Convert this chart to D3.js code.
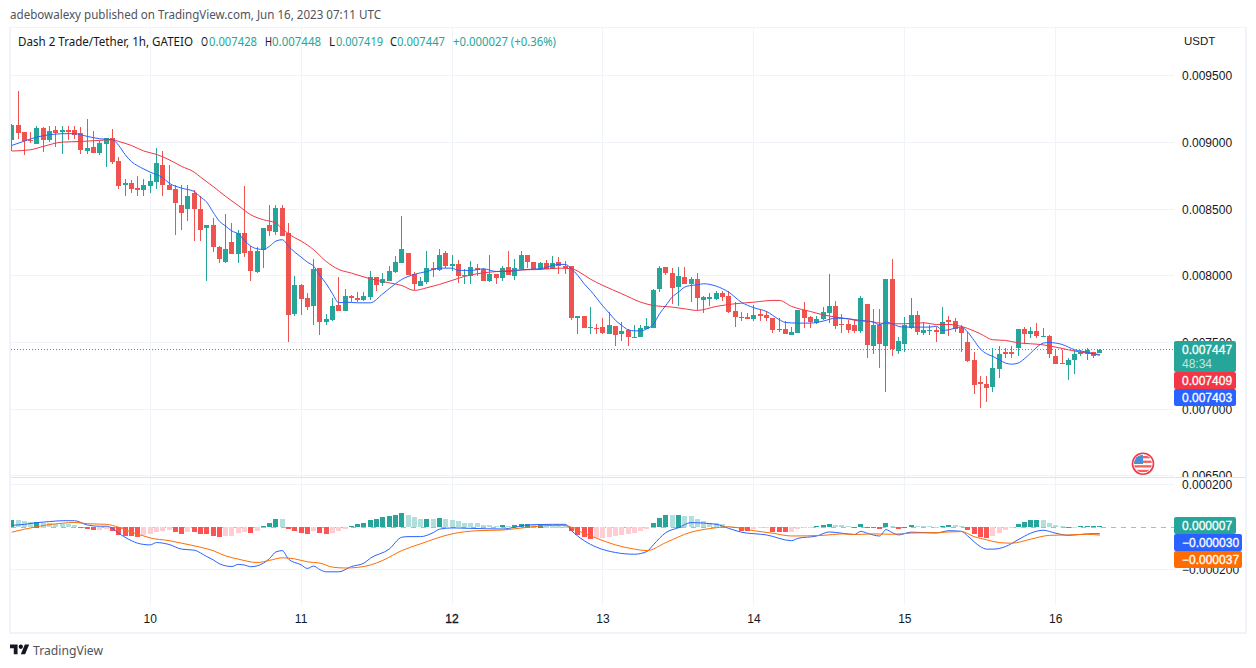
<!DOCTYPE html>
<html>
<head>
<meta charset="utf-8">
<script src="https://d3js.org/d3.v7.min.js"></script>
<style>
html,body{margin:0;padding:0;background:#fff;overflow:hidden}
svg{display:block}
text{font-family:"Liberation Sans",Arial,sans-serif}
.ui{font-family:"Noto Sans","Open Sans",sans-serif}
</style>
</head>
<body>
<svg id="c" width="1256" height="668"></svg>
<script>
// Prices and MACD values are in millionths of a USDT.
const opens=[9015,9128,9075,9015,8985,9105,9015,9090,9075,9090,9090,9067,8932,8962,8917,8985,9030,8857,8677,8692,8655,8640,8670,8700,8827,8677,8647,8527,8497,8617,8497,8355,8377,8212,8100,8250,8160,8317,8182,8025,8190,8377,8325,8505,8317,7710,7927,7830,7770,8055,7650,7665,7777,7732,7845,7830,7815,7837,7987,7942,7957,8025,8092,8167,8010,7920,7950,8055,8040,8167,8070,8085,7998,7995,8055,8047,7957,8010,7980,8062,7995,8047,8152,8100,8047,8092,8047,8100,8070,8070,7680,7695,7605,7608,7612,7560,7620,7560,7590,7535,7537,7597,7605,7897,8062,8017,7912,7987,7935,7972,7815,7822,7822,7867,7845,7732,7687,7687,7672,7710,7702,7680,7590,7597,7552,7567,7740,7687,7642,7672,7717,7770,7635,7635,7627,7582,7785,7470,7627,7470,7972,7432,7485,7605,7702,7567,7582,7590,7560,7665,7657,7605,7500,7365,7200,7192,7162,7305,7425,7432,7455,7597,7560,7582,7540,7545,7402,7347,7335,7365,7410,7410,7432,7428];
const highs=[9135,9382,9075,9075,9120,9112,9120,9120,9120,9120,9120,9112,9172,9082,9007,9030,9097,8887,8722,8715,8745,8722,8760,8955,8932,8827,8677,8677,8677,8640,8595,8377,8430,8220,8460,8392,8340,8670,8220,8212,8355,8527,8527,8527,8392,7995,7935,7867,8122,8055,7710,7830,7987,7897,7852,7875,7875,8032,7987,8017,8070,8145,8445,8167,8025,7987,8182,8100,8197,8182,8152,8115,8047,8107,8085,8055,8152,8010,8070,8182,8122,8182,8152,8100,8100,8115,8145,8137,8107,8070,7695,7695,7762,7635,7680,7725,7620,7650,7597,7627,7627,7680,7897,8070,8062,8055,8062,8062,7987,8017,7845,7867,7882,7882,7882,7800,7725,7717,7777,7747,7732,7680,7680,7657,7612,7740,7800,7695,7695,7762,8010,7807,7710,7665,7665,7845,7785,7747,7747,7972,8122,7537,7687,7830,7732,7650,7627,7612,7762,7695,7680,7627,7575,7425,7245,7245,7455,7477,7462,7477,7597,7612,7612,7642,7605,7552,7440,7440,7380,7447,7447,7455,7432,7448];
const lows=[8935,9022,8905,8992,8985,8925,9000,8962,8910,9015,9022,8910,8910,8917,8902,8812,8835,8647,8595,8617,8595,8595,8617,8647,8595,8640,8302,8340,8407,8257,8257,7957,8175,8092,8092,8160,8092,8137,7957,8017,8055,8295,8302,8295,7500,7695,7702,7740,7627,7552,7627,7657,7732,7732,7800,7800,7807,7815,7882,7920,7957,8017,8092,8002,7890,7920,7935,7987,8032,8055,8032,7942,7935,7935,7995,7957,7950,7935,7957,8002,7965,8040,8055,8047,8040,8047,8047,8010,8010,7665,7560,7605,7560,7560,7560,7560,7477,7507,7477,7530,7537,7597,7605,7875,8002,7785,7770,7935,7800,7740,7717,7770,7815,7807,7717,7612,7657,7672,7657,7657,7657,7567,7575,7560,7552,7567,7605,7605,7635,7665,7642,7597,7567,7567,7567,7567,7380,7417,7312,7125,7395,7417,7425,7597,7552,7552,7552,7500,7560,7545,7575,7425,7350,7117,7005,7050,7132,7237,7380,7380,7402,7492,7530,7530,7537,7387,7342,7335,7222,7267,7395,7365,7387,7419];
const closes=[9128,9070,9007,9007,9105,9015,9082,9067,9090,9077,9052,8942,8955,8917,8992,9030,8850,8670,8692,8647,8640,8677,8707,8842,8677,8640,8542,8467,8595,8497,8340,8377,8212,8122,8197,8160,8317,8167,8032,8182,8355,8332,8505,8295,7702,7927,7822,7762,8047,7650,7672,7770,7732,7845,7830,7815,7845,7987,7927,7972,8032,8100,8197,8002,7935,7957,8055,8040,8152,8070,8085,7995,8002,8062,8040,7957,8010,7980,8055,8002,8055,8152,8100,8047,8092,8047,8092,8070,8055,7680,7695,7605,7612,7603,7567,7627,7552,7582,7537,7540,7605,7620,7890,8055,8017,7905,7995,7935,7972,7830,7837,7837,7867,7837,7725,7687,7680,7672,7702,7695,7680,7590,7597,7560,7575,7740,7680,7650,7672,7725,7770,7620,7627,7590,7582,7830,7477,7627,7485,7972,7447,7507,7627,7702,7575,7590,7590,7575,7650,7650,7597,7567,7357,7177,7185,7162,7305,7417,7410,7417,7597,7560,7582,7545,7545,7410,7342,7340,7372,7410,7425,7440,7402,7447];

// [bar index, value] readings along each line.
const maFastPoints=[[0,8977],[2,9010],[4,9040],[6,9057],[8,9065],[10,9065],[12,9045],[14,9027],[16,9020],[17,8977],[18,8910],[19,8857],[20,8825],[21,8800],[22,8777],[24,8735],[25,8695],[27,8657],[29,8632],[30,8590],[31,8552],[32,8477],[33,8410],[34,8372],[35,8335],[36,8315],[37,8265],[38,8222],[39,8202],[40,8197],[41,8222],[42,8260],[43,8270],[44,8222],[45,8177],[46,8140],[47,8102],[48,8072],[49,8002],[50,7940],[51,7865],[52,7797],[53,7802],[55,7797],[57,7797],[59,7865],[61,7940],[62,7972],[64,8010],[66,8032],[68,8057],[70,8057],[71,8040],[73,8040],[75,8052],[77,8032],[79,8032],[81,8045],[84,8052],[87,8085],[88,8085],[89,8052],[90,8002],[91,7940],[92,7890],[93,7832],[94,7772],[95,7720],[96,7665],[97,7627],[98,7595],[99,7587],[100,7587],[101,7602],[102,7635],[103,7715],[104,7777],[105,7840],[106,7877],[107,7915],[108,7927],[109,7932],[110,7940],[112,7922],[114,7877],[116,7802],[118,7760],[120,7732],[122,7672],[123,7650],[125,7645],[127,7645],[129,7660],[131,7682],[133,7677],[135,7665],[136,7660],[137,7652],[138,7632],[139,7652],[140,7640],[141,7620],[142,7615],[144,7615],[146,7615],[147,7622],[148,7590],[149,7595],[150,7607],[151,7615],[152,7577],[153,7515],[154,7452],[155,7415],[156,7395],[157,7370],[158,7345],[159,7337],[160,7345],[161,7377],[162,7420],[163,7465],[164,7495],[165,7500],[166,7495],[167,7485],[168,7465],[169,7445],[170,7435],[171,7427],[172,7415],[173,7403]];
const maSlowPoints=[[0,8935],[3,8945],[5,8970],[8,9002],[11,9007],[14,9015],[16,9020],[17,9007],[19,8977],[21,8935],[23,8910],[25,8870],[27,8820],[29,8777],[30,8740],[32,8670],[34,8595],[36,8527],[38,8457],[40,8420],[42,8395],[43,8352],[44,8315],[45,8285],[46,8260],[48,8195],[50,8107],[52,8047],[54,8020],[57,7977],[60,7947],[62,7927],[64,7890],[66,7910],[68,7935],[70,7965],[72,7995],[74,8015],[76,8027],[78,8035],[80,8040],[82,8045],[84,8047],[87,8057],[89,8052],[91,8005],[92,7975],[94,7927],[97,7865],[100,7802],[102,7777],[105,7765],[107,7752],[109,7740],[112,7770],[115,7790],[118,7802],[121,7815],[122,7815],[124,7770],[127,7732],[129,7707],[131,7690],[133,7677],[135,7660],[136,7660],[138,7645],[140,7640],[142,7640],[145,7647],[147,7635],[149,7635],[151,7620],[152,7605],[154,7565],[156,7520],[158,7515],[160,7497],[162,7490],[164,7482],[166,7465],[168,7445],[170,7427],[172,7415],[173,7409]];

const macdHist=[34,33,30,25,26,22,19,16,15,14,11,-5,-8,-13,-12,-9,-17,-36,-41,-44,-45,-36,-35,-22,-17,-16,-22,-31,-22,-23,-31,-32,-41,-45,-44,-41,-27,-22,-27,-17,6,20,39,38,-8,-17,-27,-31,-17,-27,-31,-27,-17,-8,6,16,20,34,39,49,53,58,67,58,49,39,40,39,44,39,34,30,20,20,20,11,11,6,11,6,11,16,17,11,12,12,12,12,12,-20,-36,-49,-55,-54,-53,-45,-44,-36,-31,-27,-17,-8,20,44,58,58,59,53,53,39,30,20,20,16,6,-5,-17,-18,-8,-7,-6,-22,-23,-24,-22,-8,-3,-2,6,11,16,11,11,5,-3,16,-3,-3,-8,20,6,-8,2,11,6,6,6,2,6,11,11,6,-13,-31,-45,-50,-41,-27,-13,-2,16,25,34,35,34,20,11,6,-3,-2,5,6,6.5,7];
const macdPoints=[[0,9],[2,14],[4,22],[6,27],[8,31],[10,31],[12,11],[14,5],[15,5],[16,-5],[17,-28],[18,-47],[19,-63],[20,-75],[21,-81],[22,-83],[23,-72],[25,-81],[27,-103],[29,-108],[31,-138],[32,-153],[33,-172],[35,-185],[36,-175],[37,-178],[38,-186],[39,-182],[41,-147],[42,-116],[43,-110],[44,-150],[46,-177],[47,-194],[48,-183],[49,-200],[50,-210],[52,-210],[54,-185],[56,-169],[57,-146],[60,-103],[62,-47],[63,-44],[65,-44],[67,-25],[68,-9],[70,-3],[73,-5],[78,-8],[80,0],[82,11],[86,14],[88,14],[89,-16],[91,-63],[93,-94],[96,-119],[99,-127],[101,-114],[102,-83],[104,-25],[106,-2],[108,22],[112,14],[114,-5],[116,-23],[120,-36],[124,-63],[125,-52],[128,-41],[130,-22],[132,-28],[134,-34],[135,-19],[136,-28],[138,-41],[139,-11],[140,-25],[141,-36],[143,-23],[147,-27],[149,-16],[151,-19],[152,-41],[154,-91],[155,-103],[156,-103],[158,-91],[160,-59],[162,-28],[164,-14],[166,-28],[168,-38],[171,-31],[173,-30]];
const signalPoints=[[0,-23],[2,-9],[4,3],[6,13],[8,19],[10,23],[12,17],[15,14],[16,9],[17,0],[19,-23],[21,-41],[22,-50],[25,-63],[27,-75],[30,-94],[32,-110],[34,-135],[36,-150],[39,-166],[41,-156],[43,-144],[45,-149],[47,-163],[49,-169],[51,-188],[53,-192],[55,-189],[57,-178],[59,-156],[62,-110],[65,-78],[70,-31],[74,-16],[78,-13],[82,0],[86,9],[88,9],[90,-16],[93,-52],[96,-83],[99,-103],[101,-110],[104,-72],[108,-23],[111,-6],[114,2],[118,-16],[121,-28],[124,-41],[129,-38],[132,-31],[134,-34],[137,-31],[140,-33],[143,-27],[147,-25],[151,-20],[153,-44],[155,-59],[157,-72],[159,-75],[162,-56],[165,-38],[168,-36],[171,-33],[173,-37]];

const priceTicks=[9500,9000,8500,8000,7500,7000,6500];
const macdTicks=[200,-200];
const dayBars=[22,46,70,94,118,142,166];
const dayLabels=["10","11","12","13","14","15","16"];
const lastPrice=7447, lastMaSlow=7409, lastMaFast=7403;

const C={up:"#26A69A",down:"#EF5350",grid:"#F0F3FA",frame:"#E0E3EB",blue:"#2962FF",red:"#F23645",orange:"#FF6D00",
  hD:"#26A69A",hL:"#B2DFDB",hP:"#FFCDD2",hR:"#FF5252",txt:"#131722"};
const svg=d3.select("#c");
const defs=svg.append("defs");
defs.append("clipPath").attr("id","plot").append("rect").attr("x",11).attr("y",28).attr("width",1163).attr("height",577);
defs.append("clipPath").attr("id","axisTop").append("rect").attr("x",1174).attr("y",28).attr("width",70).attr("height",449);
defs.append("clipPath").attr("id","flag").append("circle").attr("cx",1143).attr("cy",463.7).attr("r",9);

const x=d3.scaleLinear().domain([0,173]).range([11.8,1099.8]);
const y=d3.scaleLinear().domain([6500,9500]).range([475.8,75.7]);
const ym=d3.scaleLinear().domain([-200,200]).range([569.7,484.9]);
const px=v=>Math.floor(v)+.5;

// frame
const crisp=svg.append("g").attr("shape-rendering","crispEdges");
crisp.selectAll(".vg").data(dayBars).join("line").attr("x1",d=>px(x(d))).attr("x2",d=>px(x(d))).attr("y1",28).attr("y2",605).attr("stroke",C.grid);
crisp.selectAll(".pg").data(priceTicks).join("line").attr("x1",11).attr("x2",1174).attr("y1",d=>px(y(d))).attr("y2",d=>px(y(d))).attr("stroke",C.grid);
crisp.selectAll(".mg").data(macdTicks).join("line").attr("x1",11).attr("x2",1174).attr("y1",d=>px(ym(d))).attr("y2",d=>px(ym(d))).attr("stroke",C.grid);
crisp.append("rect").attr("x",9).attr("y",26.5).attr("width",2).attr("height",607).attr("fill",C.grid);
crisp.append("line").attr("x1",9).attr("x2",1246).attr("y1",27.5).attr("y2",27.5).attr("stroke",C.grid);
crisp.append("rect").attr("x",9).attr("y",632).attr("width",1238).attr("height",2).attr("fill",C.grid);
crisp.append("rect").attr("x",1245).attr("y",27).attr("width",2).attr("height",607).attr("fill",C.grid);
crisp.append("line").attr("x1",11).attr("x2",1245).attr("y1",477.5).attr("y2",477.5).attr("stroke",C.frame);

const plot=svg.append("g").attr("clip-path","url(#plot)");
const bars=d3.range(opens.length);
const candles=plot.append("g").attr("shape-rendering","crispEdges");
const colour=i=>closes[i]>=opens[i]?C.up:C.down;
candles.selectAll(".w").data(bars).join("line")
  .attr("x1",i=>px(x(i))).attr("x2",i=>px(x(i)))
  .attr("y1",i=>y(highs[i])).attr("y2",i=>y(lows[i])).attr("stroke",colour);
candles.selectAll(".b").data(bars).join("rect")
  .attr("x",i=>Math.floor(x(i))-2).attr("width",5)
  .attr("y",i=>Math.round(y(Math.max(opens[i],closes[i]))))
  .attr("height",i=>Math.max(1,Math.round(Math.abs(y(opens[i])-y(closes[i])))))
  .attr("fill",colour);

const lineOf=(sx,sy)=>d3.line().x(d=>sx(d[0])).y(d=>sy(d[1])).curve(d3.curveMonotoneX);
plot.append("line").attr("x1",11).attr("x2",1174).attr("y1",px(y(lastPrice))).attr("y2",px(y(lastPrice)))
  .attr("stroke",C.up).attr("stroke-dasharray","1 2");
plot.append("path").attr("d",lineOf(x,y)(maSlowPoints)).attr("fill","none").attr("stroke",C.red);
plot.append("path").attr("d",lineOf(x,y)(maFastPoints)).attr("fill","none").attr("stroke",C.blue);

// MACD pane
plot.append("line").attr("x1",11).attr("x2",1174).attr("y1",px(ym(0))).attr("y2",px(ym(0)))
  .attr("stroke","#787B86").attr("stroke-opacity",.55).attr("stroke-dasharray","5 5").attr("shape-rendering","crispEdges");
const histColour=(v,i)=>{const p=i?macdHist[i-1]:-Infinity; return v>=0?(v>p?C.hD:C.hL):(v>p?C.hP:C.hR);};
plot.append("g").attr("shape-rendering","crispEdges").selectAll("rect").data(macdHist).join("rect")
  .attr("x",(d,i)=>Math.floor(x(i))-2).attr("width",5)
  .attr("y",d=>Math.round(d>=0?ym(d):ym(0)))
  .attr("height",d=>Math.max(1,Math.round(Math.abs(ym(d)-ym(0)))))
  .attr("fill",histColour);
plot.append("path").attr("d",lineOf(x,ym)(macdPoints)).attr("fill","none").attr("stroke",C.blue);
plot.append("path").attr("d",lineOf(x,ym)(signalPoints)).attr("fill","none").attr("stroke",C.orange);

// axes
const axTxt=svg.append("g").attr("font-size",12).attr("fill",C.txt);
const axTop=axTxt.append("g").attr("clip-path","url(#axisTop)");
axTop.selectAll("text").data(priceTicks).join("text").attr("x",1182).attr("y",d=>y(d)+4.5)
  .text(d=>(d/1e6).toFixed(6));
axTop.append("text").attr("x",1184).attr("y",45).attr("font-size",11.5).text("USDT");
axTxt.selectAll(".m").data(macdTicks).join("text").attr("x",1182).attr("y",d=>ym(d)+4.5)
  .text(d=>(d<0?"\u2212":"")+(Math.abs(d)/1e6).toFixed(6));
axTxt.selectAll(".d").data(dayBars).join("text").attr("x",d=>x(d)).attr("y",623).attr("text-anchor","middle")
  .attr("stroke",(d,i)=>dayLabels[i]==="12"?C.txt:"none").attr("stroke-width",.35).text((d,i)=>dayLabels[i]);

// value labels
function tag(top,h,w,fill,lines){
  svg.append("rect").attr("x",1174).attr("y",top).attr("width",w).attr("height",h).attr("rx",2).attr("fill",fill);
  lines.forEach(l=>svg.append("text").attr("x",l.x||1182).attr("y",top+l.dy).attr("font-size",12)
    .attr("fill","#fff").attr("fill-opacity",l.o||1).attr("stroke",l.b?"#fff":"none").attr("stroke-width",.3).text(l.t));
}
tag(341,31,62,C.up,[{t:(lastPrice/1e6).toFixed(6),dy:13,b:1},{t:"48:34",dy:27,o:.72}]);
tag(372,17,62,C.red,[{t:(lastMaSlow/1e6).toFixed(6),dy:13,b:1}]);
tag(389,17,62,C.blue,[{t:(lastMaFast/1e6).toFixed(6),dy:13,b:1}]);
const m=v=>(v<0?"\u2212":"")+(Math.abs(v)/1e6).toFixed(6);
tag(517,17,62,C.up,[{t:m(7),dy:13,b:1}]);
tag(534,17,68,C.blue,[{t:m(-30),dy:13,b:1}]);
tag(551,17,68,C.orange,[{t:m(-37),dy:13,b:1}]);

// header
svg.append("text").attr("class","ui").attr("x",10).attr("y",19).attr("font-size",12).attr("fill","#50535E")
  .attr("textLength",371).attr("lengthAdjust","spacingAndGlyphs").text("adebowalexy published on TradingView.com, Jun 16, 2023 07:11 UTC");
const legend=[["Dash 2 Trade/Tether, 1h, GATEIO",18,175,C.txt],["O",201,7,C.txt],["0.007428",209,48,C.up],["H",265,7,C.txt],["0.007448",272,49,C.up],["L",329,6,C.txt],["0.007419",336,47,C.up],["C",390,7,C.txt],["0.007447",397,48,C.up],["+0.000027 (+0.36%)",453,103,C.up]];
svg.append("g").attr("class","ui").attr("font-size",12).selectAll("text").data(legend).join("text")
  .attr("class","ui").attr("x",d=>d[1]).attr("y",46).attr("textLength",d=>d[2]).attr("lengthAdjust","spacingAndGlyphs").attr("fill",d=>d[3]).text(d=>d[0]);

// flag marker
const f=svg.append("g");
f.append("circle").attr("cx",1143).attr("cy",463.7).attr("r",10.5).attr("fill","#fff").attr("stroke",C.red).attr("stroke-width",1.6);
const fl=f.append("g").attr("clip-path","url(#flag)");
fl.append("rect").attr("x",1134).attr("y",454).attr("width",18).attr("height",20).attr("fill","#fff");
d3.range(4).forEach(k=>fl.append("rect").attr("x",1134).attr("y",456+k*4.6).attr("width",18).attr("height",2.3).attr("fill","#F2605F"));
fl.append("rect").attr("x",1134).attr("y",454).attr("width",9).attr("height",10).attr("fill","#4A90D9");

// logo
svg.append("path").attr("transform","translate(10,642.4) scale(.54)").attr("fill","#131722")
  .attr("d","M14 22H7V11H0V4h14v18zM28 22h-8l7.5-18h8L28 22z");
svg.append("circle").attr("cx",10+20*.54).attr("cy",642.4+8*.54).attr("r",4*.54).attr("fill","#131722");
svg.append("text").attr("class","ui").attr("x",33).attr("y",655).attr("font-size",13).attr("fill","#50535E").attr("textLength",70).attr("lengthAdjust","spacingAndGlyphs").text("TradingView");
</script>
</body>
</html>
